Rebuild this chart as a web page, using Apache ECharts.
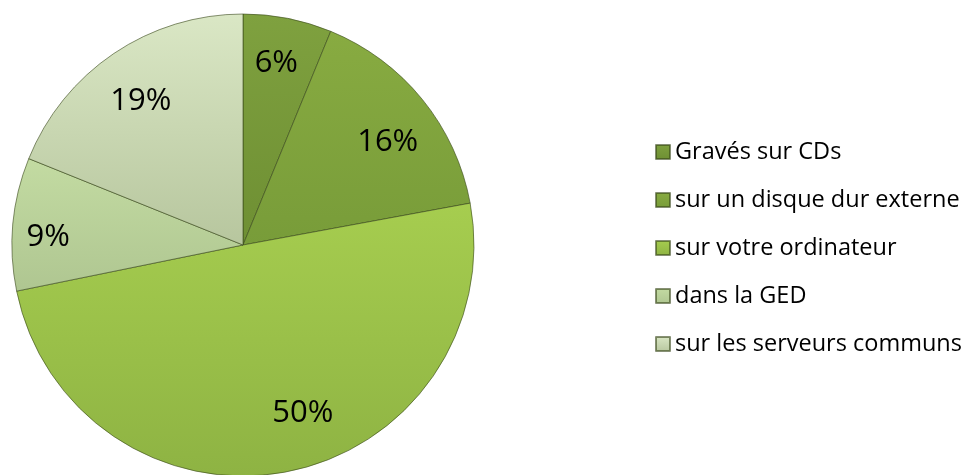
<!DOCTYPE html>
<html>
<head>
<meta charset="utf-8">
<script src="https://cdn.jsdelivr.net/npm/echarts@6/dist/echarts.min.js"></script>
<style>
  html, body { margin: 0; padding: 0; background: #fff; }
  #chart { width: 974px; height: 475px; }
</style>
</head>
<body>
<div id="chart"></div>
<script>
var categories = ['Gravés sur CDs', 'sur un disque dur externe', 'sur votre ordinateur', 'dans la GED', 'sur les serveurs communs'];
var values = [6.2, 15.9, 49.7, 9.3, 18.9];
var colors = [
  ['#7fa13f', '#6e8f33'],
  ['#88ab41', '#789c39'],
  ['#a6cd4f', '#8eb343'],
  ['#c3dba2', '#afc691'],
  ['#dae7c5', '#b7c69e']
];
// small label nudges so the percentages sit where the original put them
var labelNudge = [[-2, -3], [3, 12], [25, -11], [-13, 9], [0, 7]];

var chart = echarts.init(document.getElementById('chart'));

function grad(c) {
  return {
    type: 'linear', x: 0, y: 0, x2: 0, y2: 1,
    colorStops: [{ offset: 0, color: c[0] }, { offset: 1, color: c[1] }]
  };
}

var pieData = categories.map(function (name, i) {
  return { name: name, value: values[i], itemStyle: { color: grad(colors[i]) } };
});
var labelData = categories.map(function (name, i) {
  return { name: name, value: values[i] };
});

var option = {
  animation: false,
  legend: {
    orient: 'vertical',
    left: 655,
    top: 140,
    padding: 0,
    itemGap: 24,
    itemWidth: 14,
    itemHeight: 14,
    icon: 'rect',
    data: categories,
    textStyle: { fontFamily: 'Open Sans', fontSize: 23.5, lineHeight: 24, color: '#000' }
  },
  series: [
    {
      type: 'pie',
      center: [243, 245],
      radius: [0, 231],
      startAngle: 90,
      clockwise: true,
      label: { show: false },
      labelLine: { show: false },
      emphasis: { disabled: true },
      itemStyle: { borderColor: 'rgba(55,70,25,0.6)', borderWidth: 1 },
      data: pieData
    },
    {
      type: 'pie',
      center: [243, 245],
      radius: [128, 231],
      startAngle: 90,
      clockwise: true,
      silent: true,
      itemStyle: { color: 'rgba(0,0,0,0)' },
      label: {
        show: true,
        position: 'inside',
        formatter: function (p) { return Math.round(p.percent) + '%'; },
        fontFamily: 'Open Sans',
        fontSize: 31,
        color: '#000'
      },
      labelLayout: function (p) {
        var n = labelNudge[p.dataIndex];
        return { dx: n[0], dy: n[1] };
      },
      labelLine: { show: false },
      data: labelData
    }
  ]
};
chart.setOption(option);
</script>
</body>
</html>
